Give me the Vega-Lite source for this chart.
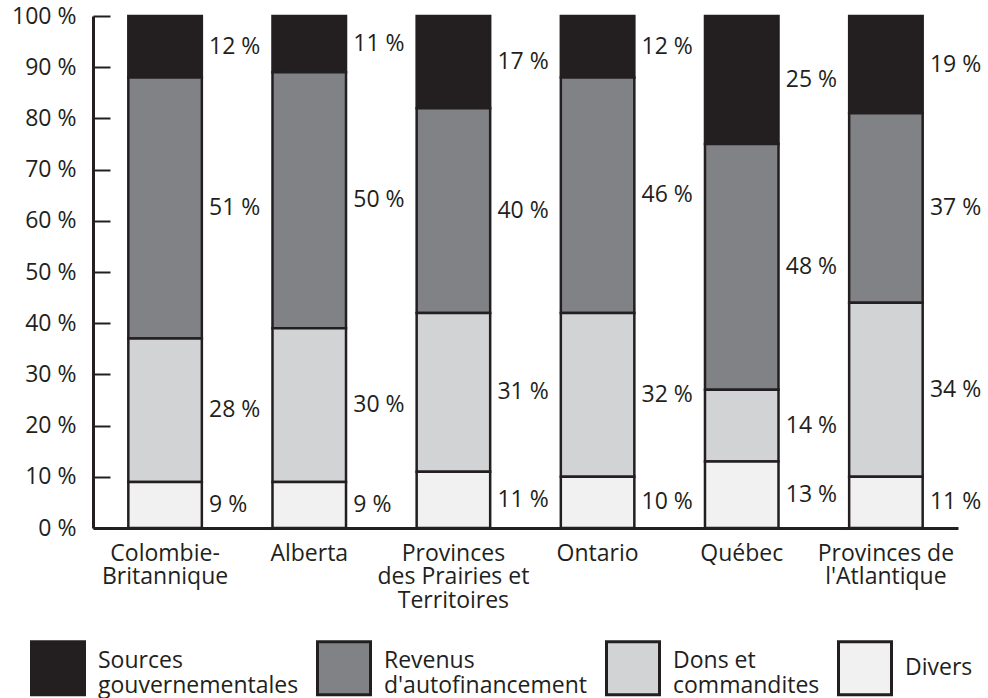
{
  "$schema": "https://vega.github.io/schema/vega-lite/v6.json",
  "width": 865,
  "height": 512,
  "autosize": "none",
  "padding": {"left": 93, "top": 16, "right": 30, "bottom": 170},
  "background": "white",
  "config": {
    "view": {"stroke": null},
    "font": "Open Sans",
    "text": {"font": "Open Sans"}
  },
  "data": {
    "values": [
      {"province": "Colombie-Britannique", "source": "Sources gouvernementales", "value": 12, "label": "12 %"},
      {"province": "Colombie-Britannique", "source": "Revenus d'autofinancement", "value": 51, "label": "51 %"},
      {"province": "Colombie-Britannique", "source": "Dons et commandites", "value": 28, "label": "28 %"},
      {"province": "Colombie-Britannique", "source": "Divers", "value": 9, "label": "9 %"},
      {"province": "Alberta", "source": "Sources gouvernementales", "value": 11, "label": "11 %"},
      {"province": "Alberta", "source": "Revenus d'autofinancement", "value": 50, "label": "50 %"},
      {"province": "Alberta", "source": "Dons et commandites", "value": 30, "label": "30 %"},
      {"province": "Alberta", "source": "Divers", "value": 9, "label": "9 %"},
      {"province": "Provinces des Prairies et Territoires", "source": "Sources gouvernementales", "value": 18, "label": "17 %"},
      {"province": "Provinces des Prairies et Territoires", "source": "Revenus d'autofinancement", "value": 40, "label": "40 %"},
      {"province": "Provinces des Prairies et Territoires", "source": "Dons et commandites", "value": 31, "label": "31 %"},
      {"province": "Provinces des Prairies et Territoires", "source": "Divers", "value": 11, "label": "11 %"},
      {"province": "Ontario", "source": "Sources gouvernementales", "value": 12, "label": "12 %"},
      {"province": "Ontario", "source": "Revenus d'autofinancement", "value": 46, "label": "46 %"},
      {"province": "Ontario", "source": "Dons et commandites", "value": 32, "label": "32 %"},
      {"province": "Ontario", "source": "Divers", "value": 10, "label": "10 %"},
      {"province": "Québec", "source": "Sources gouvernementales", "value": 25, "label": "25 %"},
      {"province": "Québec", "source": "Revenus d'autofinancement", "value": 48, "label": "48 %"},
      {"province": "Québec", "source": "Dons et commandites", "value": 14, "label": "14 %"},
      {"province": "Québec", "source": "Divers", "value": 13, "label": "13 %"},
      {"province": "Provinces de l'Atlantique", "source": "Sources gouvernementales", "value": 19, "label": "19 %"},
      {"province": "Provinces de l'Atlantique", "source": "Revenus d'autofinancement", "value": 37, "label": "37 %"},
      {"province": "Provinces de l'Atlantique", "source": "Dons et commandites", "value": 34, "label": "34 %"},
      {"province": "Provinces de l'Atlantique", "source": "Divers", "value": 10, "label": "11 %"}
    ]
  },
  "transform": [
    {"calculate": "indexof(['Divers', 'Dons et commandites', \"Revenus d'autofinancement\", 'Sources gouvernementales'], datum.source)", "as": "rank"},
    {"stack": "value", "groupby": ["province"], "sort": [{"field": "rank", "order": "ascending"}], "as": ["y0", "y1"]},
    {"calculate": "(datum.y0 + datum.y1) / 2", "as": "mid"}
  ],
  "encoding": {
    "x": {
      "field": "province",
      "type": "nominal",
      "sort": null,
      "scale": {"paddingInner": 0.49, "paddingOuter": 0.245},
      "axis": {
        "title": null,
        "labelAngle": 0,
        "ticks": false,
        "domainWidth": 3,
        "domainColor": "#231f20",
        "labelFontSize": 23,
        "labelFont": "Open Sans",
        "labelColor": "#231f20",
        "labelLineHeight": 23.5,
        "labelPadding": 14,
        "labelBaseline": "top",
        "labelLimit": 0,
        "labelExpr": "({'Colombie-Britannique': ['Colombie-', 'Britannique'], 'Alberta': 'Alberta', 'Provinces des Prairies et Territoires': ['Provinces', 'des Prairies et', 'Territoires'], 'Ontario': 'Ontario', 'Québec': 'Québec', \"Provinces de l'Atlantique\": ['Provinces de', \"l'Atlantique\"]})[datum.label]"
      }
    }
  },
  "layer": [
    {
      "mark": {"type": "bar", "stroke": "#231f20", "strokeWidth": 2.5, "fillOpacity": 1},
      "encoding": {
        "y": {
          "field": "y0",
          "type": "quantitative",
          "scale": {"domain": [0, 100], "nice": false},
          "axis": {
            "title": null,
            "values": [0, 10, 20, 30, 40, 50, 60, 70, 80, 90, 100],
            "grid": false,
            "domainWidth": 3,
            "domainColor": "#231f20",
            "tickColor": "#231f20",
            "tickWidth": 2,
            "tickSize": -17,
            "labelPadding": 34,
            "labelFontSize": 23,
            "labelFont": "Open Sans",
            "labelColor": "#231f20",
            "labelExpr": "datum.value + ' %'"
          }
        },
        "y2": {"field": "y1"},
        "color": {
          "field": "source",
          "type": "nominal",
          "scale": {
            "domain": ["Sources gouvernementales", "Revenus d'autofinancement", "Dons et commandites", "Divers"],
            "range": ["#231f20", "#808285", "#d1d3d4", "#f1f1f2"]
          },
          "legend": {
            "title": null,
            "orient": "none",
            "legendX": -63,
            "legendY": 624,
            "direction": "horizontal",
            "columns": 4,
            "padding": 0,
            "symbolType": "square",
            "symbolSize": 2809,
            "symbolStrokeColor": "#231f20",
            "symbolStrokeWidth": 3,
            "symbolOpacity": 1,
            "labelFontSize": 23,
            "labelFont": "Open Sans",
            "labelColor": "#231f20",
            "labelOffset": 12,
            "labelLimit": 0,
            "labelLineHeight": 23,
            "columnPadding": 12,
            "labelBaseline": {"expr": "datum.value === 'Divers' ? 'middle' : 'alphabetic'"},
            "labelExpr": "({'Sources gouvernementales': ['Sources', 'gouvernementales'], \"Revenus d'autofinancement\": ['Revenus', \"d'autofinancement\"], 'Dons et commandites': ['Dons et', 'commandites'], 'Divers': 'Divers'})[datum.label]"
          }
        }
      }
    },
    {
      "mark": {"type": "text", "align": "left", "baseline": "middle", "dx": 44, "fontSize": 23, "font": "Open Sans", "color": "#231f20"},
      "encoding": {
        "y": {"field": "mid", "type": "quantitative"},
        "text": {"field": "label"}
      }
    }
  ]
}
